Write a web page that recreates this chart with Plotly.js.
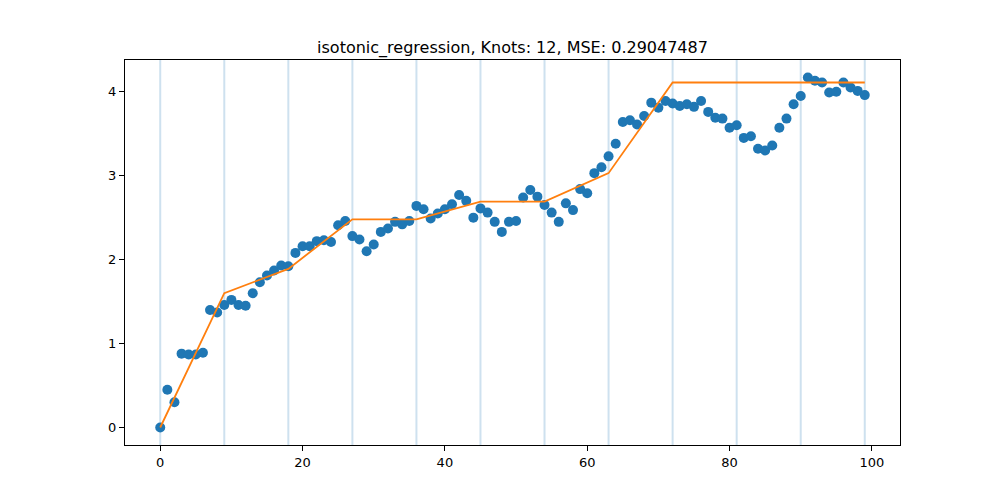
<!DOCTYPE html>
<html>
<head>
<meta charset="utf-8">
<script src="https://cdn.plot.ly/plotly-3.0.1.min.js"></script>
<style>
  body { margin: 0; background: #fff; }
  #plot { width: 1000px; height: 500px; }
</style>
</head>
<body>
<div id="plot"></div>
<script>
// observed samples (index 0..99)
var yObs = [
    0.00, 0.45, 0.30, 0.88, 0.87, 0.87, 0.89, 1.40, 1.37, 1.46,
    1.52, 1.46, 1.45, 1.60, 1.73, 1.81, 1.87, 1.93, 1.92, 2.08,
    2.16, 2.16, 2.22, 2.23, 2.21, 2.41, 2.46, 2.28, 2.24, 2.10,
    2.18, 2.33, 2.37, 2.45, 2.42, 2.46, 2.64, 2.60, 2.49, 2.55,
    2.60, 2.66, 2.77, 2.70, 2.50, 2.61, 2.56, 2.45, 2.33, 2.45,
    2.46, 2.74, 2.83, 2.75, 2.65, 2.56, 2.45, 2.67, 2.59, 2.84,
    2.79, 3.03, 3.10, 3.23, 3.38, 3.64, 3.66, 3.61, 3.71, 3.87,
    3.81, 3.89, 3.86, 3.83, 3.85, 3.82, 3.89, 3.76, 3.69, 3.68,
    3.57, 3.60, 3.45, 3.47, 3.32, 3.30, 3.36, 3.57, 3.68, 3.85,
    3.95, 4.17, 4.13, 4.11, 3.99, 4.00, 4.11, 4.05, 4.01, 3.96
];

// knot positions and fitted values at knots
var knotX = [0, 9, 18, 27, 36, 45, 54, 63, 72, 81, 90, 99];
var knotY = [0.00, 1.60, 1.89, 2.48, 2.48, 2.69, 2.69, 3.03, 4.11, 4.11, 4.11, 4.11];

var titleText = "isotonic_regression, Knots: 12, MSE: 0.29047487";

var xObs = [];
for (var i = 0; i < yObs.length; i++) xObs.push(i);

var points = {
    x: xObs,
    y: yObs,
    type: 'scatter',
    mode: 'markers',
    marker: {color: '#1f77b4', size: 10},
    hoverinfo: 'x+y'
};

var fit = {
    x: knotX,
    y: knotY,
    type: 'scatter',
    mode: 'lines',
    line: {color: '#ff7f0e', width: 1.8}
};

// knot markers as vertical lines
var knotLines = knotX.map(function(k) {
    return {
        type: 'line', xref: 'x', yref: 'paper',
        x0: k, x1: k, y0: 0, y1: 1,
        line: {color: 'rgba(31,119,180,0.22)', width: 2},
        layer: 'below'
    };
});

var axisCommon = {
    showgrid: false,
    zeroline: false,
    showline: true,
    mirror: true,
    linecolor: '#000',
    linewidth: 1,
    ticks: 'outside',
    ticklen: 5,
    tickcolor: '#000',
    tickfont: {size: 13, color: '#000'}
};

var layout = {
    width: 1000,
    height: 500,
    margin: {l: 125, r: 100, t: 60, b: 55},
    paper_bgcolor: '#fff',
    plot_bgcolor: '#fff',
    font: {family: 'DejaVu Sans', color: '#000'},
    showlegend: false,
    title: {
        text: titleText,
        font: {size: 16, color: '#000'},
        x: 0.5125, xanchor: 'center',
        y: 0.906, yanchor: 'middle'
    },
    xaxis: Object.assign({}, axisCommon, {
        range: [-4.95, 103.95],
        tickvals: [0, 20, 40, 60, 80, 100]
    }),
    yaxis: Object.assign({}, axisCommon, {
        range: [-0.2085, 4.378],
        tickvals: [0, 1, 2, 3, 4]
    }),
    shapes: knotLines
};

Plotly.newPlot('plot', [points, fit], layout, {displayModeBar: false, staticPlot: true});
</script>
</body>
</html>
